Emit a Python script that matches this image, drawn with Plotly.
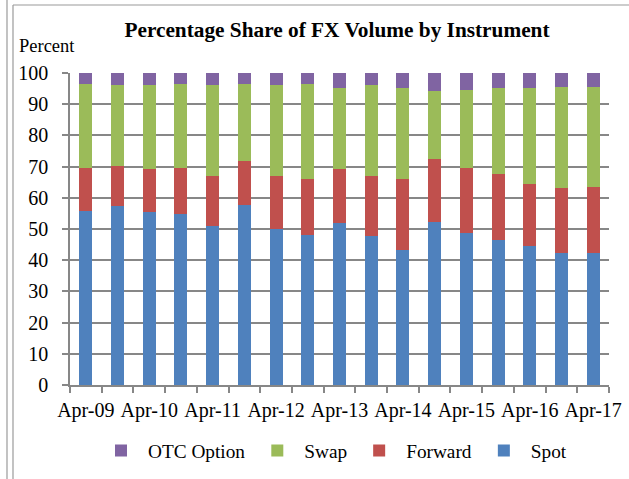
import plotly.graph_objects as go

periods = ["Apr-09", "Oct-09", "Apr-10", "Oct-10", "Apr-11", "Oct-11", "Apr-12", "Oct-12",
           "Apr-13", "Oct-13", "Apr-14", "Oct-14", "Apr-15", "Oct-15", "Apr-16", "Oct-16", "Apr-17"]
spot = [55.8, 57.4, 55.3, 54.7, 51.1, 57.8, 50.1, 48.0, 51.8, 47.6, 43.4, 52.2, 48.6, 46.6, 44.4, 42.4, 42.4]
forward = [13.9, 12.8, 13.9, 15.0, 15.9, 14.0, 16.9, 18.1, 17.4, 19.4, 22.7, 20.1, 21.1, 21.1, 20.1, 20.6, 21.1]
swap = [26.9, 25.9, 26.9, 26.9, 29.1, 24.8, 29.1, 30.5, 25.9, 29.1, 29.0, 21.8, 24.9, 27.4, 30.6, 32.6, 32.1]
otc_option = [3.4, 3.9, 3.9, 3.4, 3.9, 3.4, 3.9, 3.4, 4.9, 3.9, 4.9, 5.9, 5.4, 4.9, 4.9, 4.4, 4.4]

W, H = 629, 479
ML, MR, MT, MB = 70, 20, 73, 94
PW, PH = W - ML - MR, H - MT - MB

FONT = "Liberation Serif"
GRID = "#878787"
FRAME = "#9a9a9a"

idx = list(range(len(periods)))
series = [("Spot", spot, "#4F81BD"), ("Forward", forward, "#C0504D"),
          ("Swap", swap, "#9BBB59"), ("OTC Option", otc_option, "#8064A2")]

fig = go.Figure()
for name, vals, col in series:
    fig.add_trace(go.Bar(x=idx, y=vals, name=name, marker=dict(color=col, line=dict(width=0)),
                         hovertext=periods))

def px_x(p):
    return (p - ML) / PW

def px_y(p):
    return (H - MB - p) / PH

shapes = [
    dict(type="line", xref="paper", yref="paper", x0=px_x(7), x1=px_x(7), y0=px_y(0), y1=px_y(H),
         line=dict(color=FRAME, width=1.2)),
    dict(type="line", xref="paper", yref="paper", x0=px_x(13), x1=px_x(13), y0=px_y(5), y1=px_y(H),
         line=dict(color=FRAME, width=1.2)),
    dict(type="line", xref="paper", yref="paper", x0=px_x(13), x1=px_x(W), y0=px_y(5), y1=px_y(5),
         line=dict(color=FRAME, width=1.2)),
]

fig.update_layout(
    width=W, height=H,
    margin=dict(l=ML, r=MR, t=MT, b=MB, autoexpand=False),
    paper_bgcolor="white", plot_bgcolor="white",
    barmode="stack", bargap=0.59,
    font=dict(family=FONT, color="black", size=20),
    title=dict(text="<b>Percentage Share of FX Volume by Instrument</b>",
               font=dict(family=FONT, size=21.3, color="black"),
               x=(337 - ML) / PW, xref="paper", xanchor="center",
               y=1 - 30 / H, yanchor="middle"),
    showlegend=True,
    legend=dict(orientation="h", traceorder="reversed", x=(333 - ML) / PW, xanchor="center",
                y=px_y(451), yanchor="middle", font=dict(family=FONT, size=19.3),
                itemwidth=44, bgcolor="rgba(0,0,0,0)"),
    shapes=shapes,
    annotations=[dict(text="Percent", xref="paper", yref="paper", x=px_x(17), y=px_y(46),
                      xanchor="left", yanchor="middle", showarrow=False,
                      font=dict(family=FONT, size=18.5, color="black"))],
)

fig.update_xaxes(
    range=[-0.5, len(periods) - 0.5],
    tickvals=idx[::2], ticktext=periods[::2],
    ticks="", showgrid=False, zeroline=False,
    showline=True, linecolor=GRID, linewidth=1.5,
    tickfont=dict(family=FONT, size=20), ticklabelstandoff=6,
    minor=dict(tickvals=[i - 0.5 for i in range(len(periods) + 1)], ticks="outside",
               ticklen=6, tickcolor=GRID, tickwidth=1.5, showgrid=False),
)
fig.update_yaxes(
    range=[0, 100], dtick=10, tick0=0,
    ticks="outside", ticklen=6, tickcolor=GRID, tickwidth=1.5,
    showgrid=True, gridcolor=GRID, gridwidth=1.5,
    zeroline=False, showline=True, linecolor=GRID, linewidth=1.5,
    tickfont=dict(family=FONT, size=20), ticklabelstandoff=10,
)

fig.write_html("out.html", config={"displayModeBar": False},
               post_script="document.body.style.margin='0';")
